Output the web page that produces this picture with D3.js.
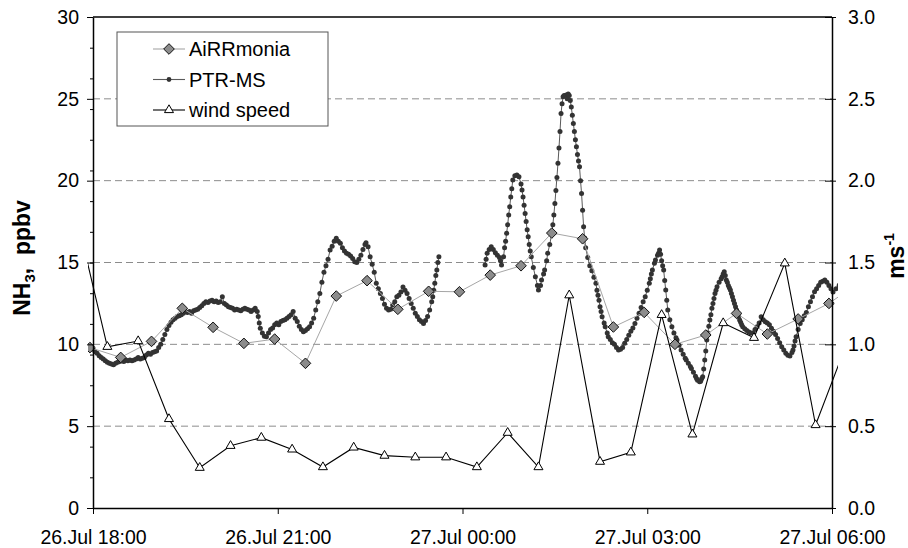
<!DOCTYPE html>
<html>
<head>
<meta charset="utf-8">
<script src="https://cdn.jsdelivr.net/npm/d3@7"></script>
<style>
  body { margin: 0; background: #fff; }
  svg { font-family: "Liberation Sans", Arial, sans-serif; }
</style>
</head>
<body>
<svg id="chart" width="908" height="548"></svg>
<script>
// times are minutes after 26.Jul 18:00
const tickMinutes = [0, 180, 360, 540, 720];
const tickLabels = ['26.Jul 18:00', '26.Jul 21:00', '27.Jul 00:00', '27.Jul 03:00', '27.Jul 06:00'];

const airMinutes = [-3, 27, 57, 87, 117, 147, 177, 207, 237, 267, 297, 327, 357, 387, 417, 447, 477, 507, 537, 567, 597, 627, 657, 687, 717, 747];
const airValues  = [9.8, 9.2, 10.18, 12.2, 11.04, 10.06, 10.32, 8.84, 12.95, 13.89, 12.14, 13.24, 13.21, 14.23, 14.8, 16.8, 16.45, 11.06, 11.95, 10.0, 10.57, 11.89, 10.63, 11.55, 12.5, 13.8];

const windMinutes = [-16, 14, 44, 74, 104, 134, 164, 194, 224, 254, 284, 314, 344, 374, 404, 434, 464, 494, 524, 554, 584, 614, 644, 674, 704, 734];
const windValues  = [1.78, 0.985, 1.02, 0.544, 0.246, 0.38, 0.43, 0.358, 0.25, 0.37, 0.32, 0.31, 0.31, 0.25, 0.46, 0.25, 1.30, 0.283, 0.34, 1.18, 0.45, 1.13, 1.04, 1.495, 0.507, 1.0];

// PTR-MS readings: [minute, ppbv]; null marks the gap in the record
const ptrReadings = [
  [-2, 9.8], [0, 9.7], [2, 9.55], [4, 9.45], [6, 9.3], [8, 9.2], [10, 9.1], [12, 9.0], [14, 8.9], [16, 8.85],
  [18, 8.8], [20, 8.75], [22, 8.85], [24, 8.9], [26, 8.95], [28, 9.0], [30, 8.95], [32, 9.05], [34, 9.0], [36, 9.05],
  [38, 9.0], [40, 9.05], [42, 9.1], [44, 9.2], [46, 9.1], [48, 9.15], [50, 9.2], [52, 9.35], [54, 9.45], [56, 9.4],
  [58, 9.5], [60, 9.55], [62, 9.6], [64, 9.8], [66, 10.0], [68, 10.3], [70, 10.6], [72, 10.9], [74, 11.15], [76, 11.35],
  [78, 11.5], [80, 11.6], [82, 11.7], [84, 11.75], [86, 11.8], [88, 11.9], [90, 12.0], [92, 11.95], [94, 12.0], [96, 11.9],
  [98, 12.05], [100, 12.1], [102, 12.15], [104, 12.25], [106, 12.35], [108, 12.5], [110, 12.6], [112, 12.55], [114, 12.65], [116, 12.7],
  [118, 12.6], [120, 12.65], [122, 12.55], [124, 12.6], [126, 12.9], [128, 12.5], [130, 12.4], [132, 12.3], [134, 12.25], [136, 12.2],
  [138, 12.1], [140, 12.15], [142, 12.1], [144, 12.05], [146, 12.15], [148, 12.2], [150, 12.15], [152, 12.1], [154, 12.0], [156, 12.1],
  [158, 12.2], [160, 12.0], [161, 11.7], [162, 11.3], [163, 10.98], [165, 10.7], [167, 10.5], [169, 10.46], [171, 10.7], [173, 10.9],
  [175, 11.0], [177, 11.2], [179, 11.3], [181, 11.2], [183, 11.4], [185, 11.45], [187, 11.5], [189, 11.6], [191, 11.7], [193, 11.8],
  [195, 12.0], [197, 11.6], [199, 11.4], [201, 11.1], [203, 10.9], [205, 10.77], [207, 10.85], [209, 10.95], [211, 11.07], [213, 11.3],
  [215, 11.6], [217, 12.1], [219, 12.6], [221, 13.1], [223, 13.8], [225, 14.4], [227, 14.8], [229, 15.2], [231, 15.76], [233, 16.0],
  [235, 16.3], [237, 16.48], [239, 16.3], [241, 16.17], [243, 15.9], [245, 15.7], [247, 15.56], [249, 15.5], [251, 15.4], [253, 15.25],
  [255, 15.05], [257, 15.0], [259, 15.2], [261, 15.45], [263, 15.8], [265, 16.1], [266, 16.2], [268, 15.96], [270, 15.35], [272, 14.9],
  [274, 14.4], [276, 13.73], [278, 13.4], [280, 13.1], [282, 12.8], [284, 12.45], [286, 12.2], [288, 12.1], [290, 12.15], [292, 12.4],
  [294, 12.6], [296, 12.9], [298, 13.0], [300, 13.2], [302, 13.5], [304, 13.3], [306, 13.1], [308, 12.8], [310, 12.5], [312, 12.2],
  [314, 11.9], [316, 11.7], [318, 11.5], [320, 11.4], [322, 11.28], [324, 11.45], [326, 11.7], [328, 12.1], [330, 12.6], [331, 12.9],
  [332, 13.3], [333, 13.73], [334, 14.2], [335, 14.54], [336, 15.0], [337, 15.35], [360, null],
  [382, 14.84], [383, 15.2], [384, 15.56], [386, 15.8], [388, 15.96], [390, 15.8], [392, 15.6], [394, 15.45], [396, 15.3], [397, 15.1],
  [398, 14.84], [400, 15.35], [401, 15.9], [402, 16.3], [403, 16.78], [404, 17.3], [405, 17.9], [406, 18.4], [407, 19.0], [408, 19.5],
  [409, 20.04], [411, 20.3], [413, 20.34], [415, 20.24], [417, 19.8], [418, 19.43], [419, 19.0], [420, 18.5], [421, 18.0], [422, 17.5],
  [423, 17.0], [424, 16.57], [425, 16.1], [426, 15.7], [427, 15.35], [429, 14.7], [431, 14.13], [433, 13.6], [434, 13.32], [436, 13.6],
  [437, 13.93], [439, 14.3], [440, 14.54], [442, 15.1], [443, 15.56], [445, 16.1], [447, 16.78], [448, 17.3], [449, 17.9], [450, 18.6],
  [451, 19.4], [452, 20.2], [453, 21.06], [454, 22.0], [455, 23.0], [456, 24.1], [457, 24.7], [458, 25.13], [459, 25.2], [461, 25.23],
  [462, 25.0], [463, 25.29], [464, 25.2], [465, 24.9], [466, 24.5], [467, 24.0], [468, 23.5], [469, 23.0], [470, 22.5], [471, 22.07],
  [472, 21.6], [473, 21.2], [474, 20.85], [475, 20.0], [476, 19.22], [477, 18.2], [478, 17.18], [479, 16.5], [480, 15.9], [482, 15.3],
  [484, 14.8], [486, 14.5], [488, 14.1], [490, 13.73], [491, 13.3], [492, 13.0], [493, 12.7], [494, 12.3], [495, 12.0], [496, 11.69],
  [498, 11.3], [499, 11.07], [501, 10.7], [502, 10.46], [504, 10.3], [506, 10.1], [508, 10.0], [510, 9.8], [512, 9.65], [514, 9.7],
  [516, 9.8], [518, 10.06], [520, 10.3], [522, 10.55], [524, 10.8], [526, 11.0], [528, 11.28], [530, 11.6], [532, 11.9], [534, 12.25],
  [536, 12.6], [538, 12.9], [540, 13.3], [542, 13.73], [543, 14.0], [544, 14.3], [545, 14.54], [547, 14.95], [548, 15.15], [550, 15.45],
  [551, 15.56], [552, 15.76], [553, 15.5], [554, 15.1], [555, 14.8], [556, 14.54], [557, 13.9], [558, 13.32], [559, 12.7], [560, 12.1],
  [562, 11.5], [564, 11.07], [566, 10.7], [568, 10.4], [569, 10.26], [571, 9.95], [573, 9.65], [575, 9.4], [577, 9.15], [578, 9.04],
  [580, 8.85], [582, 8.65], [583, 8.53], [585, 8.3], [587, 8.05], [588, 7.92], [589, 7.8], [591, 7.71], [592, 7.75], [593, 7.9],
  [594, 8.02], [595, 8.5], [596, 9.04], [597, 9.6], [598, 10.26], [599, 10.7], [600, 11.1], [601, 11.48], [602, 11.8], [603, 12.2],
  [604, 12.5], [605, 12.8], [606, 13.1], [607, 13.3], [608, 13.52], [610, 13.8], [612, 14.0], [613, 14.13], [614, 14.3], [615, 14.43],
  [616, 14.2], [617, 13.93], [618, 13.8], [619, 13.6], [620, 13.45], [621, 13.32], [622, 13.1], [623, 12.9], [624, 12.7], [625, 12.5],
  [626, 12.3], [627, 12.1], [628, 11.9], [629, 11.7], [630, 11.48], [631, 11.35], [632, 11.2], [633, 11.07], [635, 10.95], [637, 10.85],
  [639, 10.75], [641, 10.7], [643, 10.7], [645, 10.9], [647, 11.07], [649, 11.3], [651, 11.69], [653, 11.5], [655, 11.38], [657, 11.3],
  [659, 11.2], [661, 10.98], [663, 10.8], [665, 10.6], [667, 10.35], [669, 10.1], [671, 9.85], [673, 9.65], [675, 9.45], [677, 9.33],
  [679, 9.29], [681, 9.5], [682, 9.65], [683, 9.9], [684, 10.2], [685, 10.46], [687, 10.9], [689, 11.28], [691, 11.5], [693, 11.75],
  [695, 11.95], [697, 12.3], [699, 12.6], [701, 12.9], [703, 13.21], [705, 13.4], [707, 13.6], [709, 13.8], [711, 13.85], [713, 13.93],
  [715, 13.8], [717, 13.6], [719, 13.4], [721, 13.2], [724, 13.4], [727, 13.6]
];

const start = new Date(2007, 6, 26, 18, 0);
const toDate = m => new Date(start.getTime() + m * 60000);

const air  = airMinutes.map((m, i) => ({ t: toDate(m), v: airValues[i] }));
const wind = windMinutes.map((m, i) => ({ t: toDate(m), v: windValues[i] }));
const ptr  = ptrReadings.map(d => ({ t: toDate(d[0]), v: d[1] }));

const plotL = 93, plotR = 832, plotT = 17, plotB = 508;

const svg = d3.select('#chart');

const x = d3.scaleTime().domain([toDate(0), toDate(720)]).range([plotL, plotR]);
const yL = d3.scaleLinear().domain([0, 30]).range([plotB, plotT]);
const yR = d3.scaleLinear().domain([0, 3]).range([plotB, plotT]);

// grid
svg.append('g')
  .selectAll('line')
  .data([5, 10, 15, 20, 25])
  .enter()
  .append('line')
  .attr('x1', plotL).attr('x2', plotR)
  .attr('y1', d => yL(d)).attr('y2', d => yL(d))
  .attr('stroke', '#8c8c8c')
  .attr('stroke-dasharray', '7,4');

svg.append('line')
  .attr('x1', plotL).attr('x2', plotR)
  .attr('y1', plotT).attr('y2', plotT)
  .attr('stroke', '#000').attr('stroke-width', 1.3);

svg.append('clipPath').attr('id', 'clip')
  .append('rect').attr('x', 88).attr('y', plotT - 8).attr('width', 750).attr('height', plotB - plotT + 8);

const plot = svg.append('g').attr('clip-path', 'url(#clip)');

// PTR-MS
plot.append('path')
  .datum(ptr)
  .attr('fill', 'none')
  .attr('stroke', '#5a5a5a')
  .attr('stroke-width', 1)
  .attr('d', d3.line().defined(d => d.v != null).x(d => x(d.t)).y(d => yL(d.v)));

plot.append('g')
  .selectAll('circle')
  .data(ptr.filter(d => d.v != null))
  .enter()
  .append('circle')
  .attr('cx', d => x(d.t))
  .attr('cy', d => yL(d.v))
  .attr('r', 2.5)
  .attr('fill', '#333');

// AiRRmonia
const diamond = d3.symbol().type(d3.symbolDiamond2).size(72);
plot.append('path')
  .datum(air)
  .attr('fill', 'none')
  .attr('stroke', '#a6a6a6')
  .attr('stroke-width', 1)
  .attr('d', d3.line().x(d => x(d.t)).y(d => yL(d.v)));

plot.append('g')
  .selectAll('path')
  .data(air)
  .enter()
  .append('path')
  .attr('d', diamond)
  .attr('transform', d => `translate(${x(d.t)},${yL(d.v)})`)
  .attr('fill', '#8c8c8c')
  .attr('stroke', '#111')
  .attr('stroke-width', 1);

// wind speed
const tri = d3.symbol().type(d3.symbolTriangle2).size(58);
plot.append('path')
  .datum(wind)
  .attr('fill', 'none')
  .attr('stroke', '#000')
  .attr('stroke-width', 1.1)
  .attr('d', d3.line().x(d => x(d.t)).y(d => yR(d.v)));

plot.append('g')
  .selectAll('path')
  .data(wind)
  .enter()
  .append('path')
  .attr('d', tri)
  .attr('transform', d => `translate(${x(d.t)},${yR(d.v)})`)
  .attr('fill', '#fff')
  .attr('stroke', '#000')
  .attr('stroke-width', 1);

// axes
const xAxis = d3.axisBottom(x)
  .tickValues(tickMinutes.map(toDate))
  .tickFormat((d, i) => tickLabels[i])
  .tickSizeInner(6).tickSizeOuter(0).tickPadding(16);

svg.append('g')
  .attr('transform', `translate(0,${plotB})`)
  .call(xAxis)
  .call(g => g.select('.domain').attr('stroke-width', 1.5))
  .call(g => g.selectAll('text').attr('font-size', 19.5).attr('fill', '#000').attr('font-family', null));

svg.append('g')
  .attr('transform', `translate(${plotL},0)`)
  .call(d3.axisLeft(yL).tickValues(d3.range(0, 30.01, 1.875)).tickSize(3).tickFormat(''))
  .call(g => g.select('.domain').remove());

svg.append('g')
  .attr('transform', `translate(${plotL},0)`)
  .call(d3.axisLeft(yL).tickValues([0, 5, 10, 15, 20, 25, 30]).tickSizeInner(6).tickSizeOuter(0).tickPadding(8))
  .call(g => g.select('.domain').attr('stroke-width', 1.5))
  .call(g => g.selectAll('text').attr('font-size', 19.5).attr('fill', '#000').attr('font-family', null));

svg.append('g')
  .attr('transform', `translate(${plotR},0)`)
  .call(d3.axisRight(yR).tickValues([0, 0.5, 1, 1.5, 2, 2.5, 3]).tickFormat(d3.format('.1f'))
    .tickSizeInner(4).tickSizeOuter(0).tickPadding(12))
  .call(g => g.select('.domain').attr('stroke-width', 1.5))
  .call(g => g.selectAll('.tick line').attr('x1', -7))
  .call(g => g.selectAll('text').attr('font-size', 19.5).attr('fill', '#000').attr('font-family', null));

// axis titles
const tl = svg.append('text')
  .attr('transform', 'translate(30,258) rotate(-90)')
  .attr('text-anchor', 'middle')
  .attr('font-size', 23)
  .attr('font-weight', 'bold');
tl.append('tspan').text('NH');
tl.append('tspan').text('3').attr('font-size', 15).attr('dy', 5);
tl.append('tspan').text(',\u00a0\u00a0ppbv').attr('dy', -5);

const tr = svg.append('text')
  .attr('transform', 'translate(904,256) rotate(-90)')
  .attr('text-anchor', 'middle')
  .attr('font-size', 23)
  .attr('font-weight', 'bold');
tr.append('tspan').text('ms');
tr.append('tspan').text('-1').attr('font-size', 14).attr('dy', -10);

// legend
const legend = svg.append('g');
legend.append('rect')
  .attr('x', 117).attr('y', 32).attr('width', 211).attr('height', 94)
  .attr('fill', '#fff').attr('stroke', '#555').attr('stroke-width', 1);

const items = [
  { name: 'AiRRmonia', line: '#a6a6a6', sym: diamond, fill: '#8c8c8c', stroke: '#111' },
  { name: 'PTR-MS', line: '#5a5a5a', sym: null },
  { name: 'wind speed', line: '#000', sym: tri, fill: '#fff', stroke: '#000' }
];
const rows = legend.selectAll('g.item')
  .data(items)
  .enter()
  .append('g')
  .attr('class', 'item')
  .attr('transform', (d, i) => `translate(0,${49 + i * 30.5})`);

rows.append('line')
  .attr('x1', 153).attr('x2', 185)
  .attr('stroke', d => d.line).attr('stroke-width', 1.1);

rows.filter(d => d.sym)
  .append('path')
  .attr('d', d => d.sym())
  .attr('transform', 'translate(169,0)')
  .attr('fill', d => d.fill)
  .attr('stroke', d => d.stroke);

rows.filter(d => !d.sym)
  .append('circle')
  .attr('cx', 169).attr('r', 2.4).attr('fill', '#333');

rows.append('text')
  .attr('x', 189)
  .attr('dy', '0.35em')
  .attr('font-size', 20)
  .text(d => d.name);
</script>
</body>
</html>
